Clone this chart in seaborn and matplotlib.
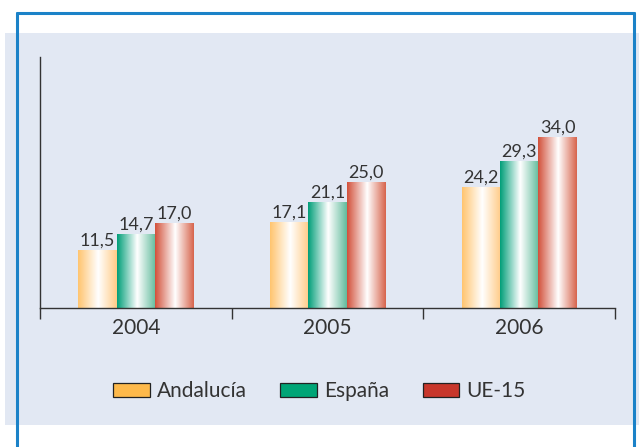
import seaborn as sns
import matplotlib.pyplot as plt
import pandas as pd
import numpy as np
from matplotlib.colors import LinearSegmentedColormap
from matplotlib.patches import Patch, Rectangle
from matplotlib.lines import Line2D

# data
years = ["2004", "2005", "2006"]
regions = ["Andalucía", "España", "UE-15"]
andalucia = [11.5, 17.1, 24.2]
espana = [14.7, 21.1, 29.3]
ue15 = [17.0, 25.0, 34.0]

# solid colours (legend) and gradient stops (bars)
solid = ["#FDB94B", "#00A576", "#C8372B"]
grad = [
    ["#FFC46E", "#FFFFFF", "#FFCB86"],
    ["#009E78", "#FFFFFF", "#62BB9C"],
    ["#D2503A", "#FFFFFF", "#D7644C"],
]

df = pd.DataFrame({
    "Year": years * 3,
    "Region": [r for r in regions for _ in years],
    "Value": andalucia + espana + ue15,
})

sns.set_style("white")
plt.rcParams["font.family"] = ["Lato", "DejaVu Sans"]
text_color = "#333333"

fig = plt.figure(figsize=(6.39, 4.47), dpi=100)
fig.patch.set_facecolor("white")

# blue frame and light panel behind the chart
blue = "#1B82C8"
fig.add_artist(Line2D([17 / 639, 634 / 639], [1 - 13 / 447] * 2, color=blue, lw=2.2))
fig.add_artist(Line2D([17 / 639] * 2, [0, 1 - 13 / 447], color=blue, lw=2.2))
fig.add_artist(Line2D([634 / 639] * 2, [0, 1 - 13 / 447], color=blue, lw=2.2))
fig.add_artist(Rectangle((5 / 639, 22 / 447), 634 / 639, 392 / 447,
                         transform=fig.transFigure, facecolor="#E2E8F3",
                         edgecolor="none", zorder=1))

ax = fig.add_axes([40 / 639, 1 - 308 / 447, 575 / 639, 251 / 447])
ax.set_zorder(2)
ax.patch.set_alpha(0)

sns.barplot(data=df, x="Year", y="Value", hue="Region", palette=solid,
            width=0.6, ax=ax, legend=False, saturation=1)

# replace flat fills with horizontal gradients
for i, container in enumerate(ax.containers):
    cmap = LinearSegmentedColormap.from_list(
        f"g{i}", [(0, grad[i][0]), (0.52, grad[i][1]), (1, grad[i][2])])
    for bar in container:
        x, w, h = bar.get_x(), bar.get_width(), bar.get_height()
        im = ax.imshow(np.linspace(0, 1, 256).reshape(1, -1), cmap=cmap,
                       extent=[x, x + w, 0, h], aspect="auto", zorder=2)
        im.set_clip_path(bar)
        bar.set_facecolor("none")
        bar.set_edgecolor("none")
    labels = [f"{v:.1f}".replace(".", ",") for v in container.datavalues]
    ax.bar_label(container, labels=labels, padding=1, fontsize=13,
                 color=text_color)

ax.set_xlim(-0.5, 2.5)
ax.set_ylim(0, 50)

# spines and ticks
for s in ["top", "right"]:
    ax.spines[s].set_visible(False)
for s in ["left", "bottom"]:
    ax.spines[s].set_color("#333333")
    ax.spines[s].set_linewidth(1.0)
ax.set_yticks([])
ax.set_xticks([-0.5, 0.5, 1.5, 2.5])
ax.set_xticklabels([])
ax.tick_params(axis="x", which="major", bottom=True, direction="out",
               length=8, width=1, color="#333333")
ax.set_xticks([0, 1, 2], minor=True)
ax.set_xticklabels(years, minor=True, fontsize=15, color=text_color)
ax.tick_params(axis="x", which="minor", bottom=True, length=0, pad=7)
ax.set_xlabel("")
ax.set_ylabel("")

handles = [Patch(facecolor=c, edgecolor="#222222", linewidth=0.9) for c in solid]
fig.legend(handles, regions, loc="center", bbox_to_anchor=(0.5, 1 - 391 / 447),
           ncol=3, frameon=False, fontsize=15, handlelength=1.75,
           handleheight=0.65, handletextpad=0.35, columnspacing=1.6,
           labelcolor=text_color)

fig.savefig("out.png", dpi=100)
plt.close(fig)
